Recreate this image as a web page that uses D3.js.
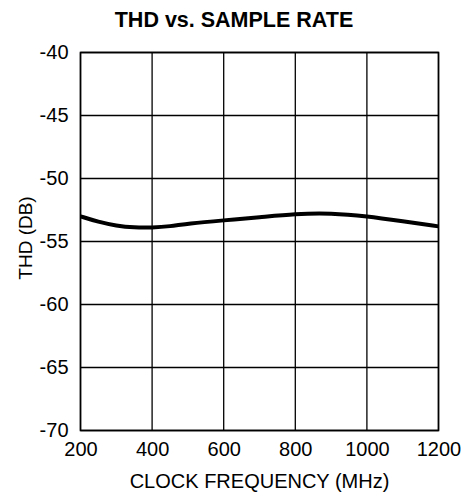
<!DOCTYPE html>
<html>
<head>
<meta charset="utf-8">
<script src="https://cdn.jsdelivr.net/npm/d3@7"></script>
<style>
html, body { margin: 0; padding: 0; background: #fff; }
svg { display: block; font-family: "Liberation Sans", Arial, Helvetica, sans-serif; }
</style>
</head>
<body>
<svg id="chart" width="464" height="498"></svg>
<script>
const title = "THD vs. SAMPLE RATE";
const xLabel = "CLOCK FREQUENCY (MHz)";
const yLabel = "THD (DB)";
const xTicks = [200, 400, 600, 800, 1000, 1200];
const yTicks = [-40, -45, -50, -55, -60, -65, -70];
const freq = [200, 250, 300, 350, 400, 450, 500, 600, 700, 800, 900, 1000, 1100, 1200];
const thd = [-53.0, -53.45, -53.75, -53.9, -53.9, -53.8, -53.58, -53.32, -53.08, -52.8, -52.74, -53.0, -53.4, -53.8];

const svg = d3.select("#chart");
const m = { left: 80.5, right: 438.5, top: 52.5, bottom: 430.5 };
const x = d3.scaleLinear().domain([200, 1200]).range([m.left, m.right]);
const y = d3.scaleLinear().domain([-70, -40]).range([m.bottom, m.top]);

// grid
const g = svg.append("g");
g.selectAll("line.v").data(xTicks).join("line")
  .attr("x1", d => x(d)).attr("x2", d => x(d))
  .attr("y1", m.top).attr("y2", m.bottom)
  .attr("stroke", "#000").attr("stroke-width", 1.3);
g.selectAll("line.h").data(yTicks).join("line")
  .attr("x1", m.left).attr("x2", m.right)
  .attr("y1", d => y(d)).attr("y2", d => y(d))
  .attr("stroke", "#000").attr("stroke-width", 1.3);
g.append("rect").attr("x", m.left).attr("y", m.top)
  .attr("width", m.right - m.left).attr("height", m.bottom - m.top)
  .attr("fill", "none").attr("stroke", "#000").attr("stroke-width", 1.6);

// axes labels via d3 axis
const yAxis = svg.append("g").attr("transform", `translate(${m.left},0)`)
  .call(d3.axisLeft(y).tickValues(yTicks).tickSize(0).tickPadding(12).tickFormat(d => String(d)));
yAxis.select(".domain").remove();
yAxis.selectAll("text").attr("font-size", 20).attr("fill", "#000")
  .attr("font-family", "Liberation Sans, Arial, sans-serif");

const xAxis = svg.append("g").attr("transform", `translate(0,${m.bottom})`)
  .call(d3.axisBottom(x).tickValues(xTicks).tickSize(0).tickPadding(11).tickFormat(d => String(d)));
xAxis.select(".domain").remove();
xAxis.selectAll("text").attr("font-size", 20).attr("fill", "#000")
  .attr("font-family", "Liberation Sans, Arial, sans-serif");

// curve
const line = d3.line().x((d, i) => x(freq[i])).y(d => y(d)).curve(d3.curveBasis);
svg.append("path").datum(thd).attr("d", line)
  .attr("fill", "none").attr("stroke", "#000").attr("stroke-width", 4)
  .attr("stroke-linejoin", "round");

// title
svg.append("text").attr("x", 234).attr("y", 27).attr("text-anchor", "middle")
  .attr("font-size", 21.5).attr("font-weight", "bold").text(title);

// x label
svg.append("text").attr("x", (m.left + m.right) / 2).attr("y", 488)
  .attr("text-anchor", "middle").attr("font-size", 20).text(xLabel);

// y label
svg.append("text").attr("transform", `translate(32,238) rotate(-90)`)
  .attr("text-anchor", "middle").attr("font-size", 19).text(yLabel);
</script>
</body>
</html>
